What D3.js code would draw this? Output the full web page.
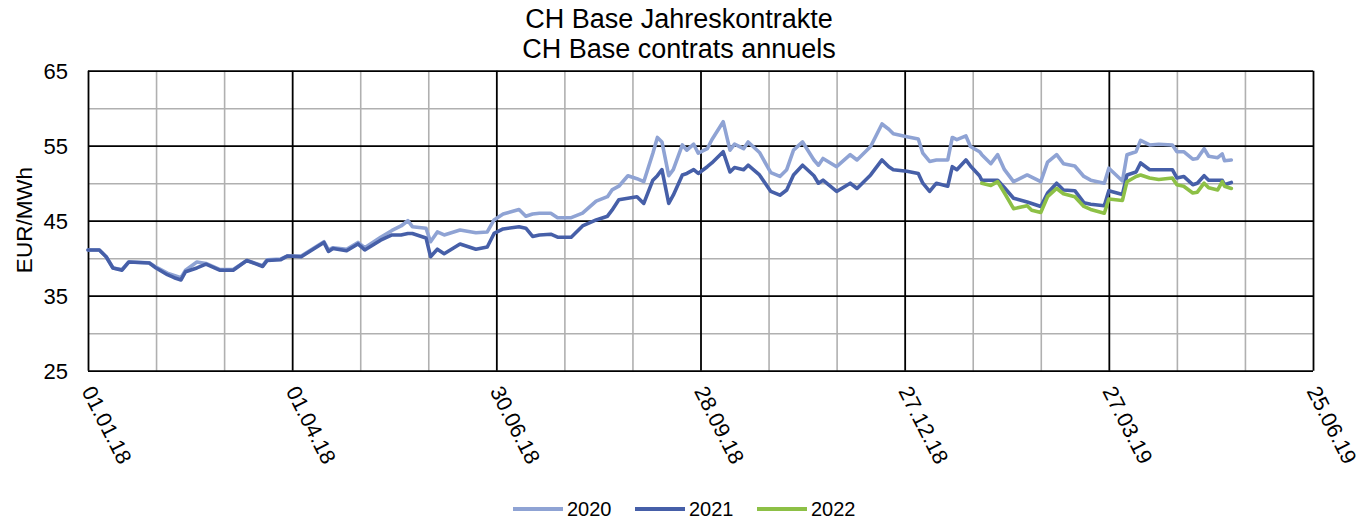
<!DOCTYPE html>
<html>
  <head>
    <meta charset="utf-8">
    <title>CH Base Jahreskontrakte</title>
    <style>
      body { margin: 0; background: white; }
      text { font-family: "Liberation Sans", Arial, sans-serif; fill: black; }
      .grid-minor line { stroke: #b0b0b0; stroke-width: 1.6; }
      .grid-major line { stroke: black; stroke-width: 1.8; }
      .grid-minor path, .grid-major path { display: none; }
      .series { fill: none; stroke-width: 3.6; stroke-linejoin: round; stroke-linecap: round; }
    </style>
  </head>
  <body>
    <script src="https://cdn.jsdelivr.net/npm/d3@7"></script>
    <script>
      const width = 1364;
      const height = 520;

      const titleLines = ["CH Base Jahreskontrakte", "CH Base contrats annuels"];
      const yLabel = "EUR/MWh";
      const seriesNames = ["2020", "2021", "2022"];
      const seriesColors = ["#8fa3d4", "#465fa8", "#8dc046"];

      const xTickDates = ["2018-01-01", "2018-04-01", "2018-06-30", "2018-09-28", "2018-12-27", "2019-03-27", "2019-06-25"];
      const yTicks = [25, 35, 45, 55, 65];
      const yMinorTicks = [30, 40, 50, 60];

      const dates = [
        "2018-01-01", "2018-01-06", "2018-01-09", "2018-01-12", "2018-01-16", "2018-01-19", "2018-01-28", "2018-01-31",
        "2018-02-05", "2018-02-08", "2018-02-11", "2018-02-13", "2018-02-18", "2018-02-22", "2018-02-28", "2018-03-06",
        "2018-03-12", "2018-03-19", "2018-03-21", "2018-03-27", "2018-03-30", "2018-04-05", "2018-04-15", "2018-04-17",
        "2018-04-19", "2018-04-25", "2018-04-30", "2018-05-03", "2018-05-10", "2018-05-15", "2018-05-19", "2018-05-22",
        "2018-05-24", "2018-05-30", "2018-06-01", "2018-06-04", "2018-06-07", "2018-06-14", "2018-06-21", "2018-06-26",
        "2018-06-29", "2018-07-03", "2018-07-10", "2018-07-13", "2018-07-16", "2018-07-19", "2018-07-24", "2018-07-27",
        "2018-08-02", "2018-08-07", "2018-08-13", "2018-08-18", "2018-08-20", "2018-08-23", "2018-08-27", "2018-08-31",
        "2018-09-03", "2018-09-07", "2018-09-09", "2018-09-11", "2018-09-14", "2018-09-16", "2018-09-20", "2018-09-22",
        "2018-09-25", "2018-09-27", "2018-10-01", "2018-10-03", "2018-10-08", "2018-10-11", "2018-10-13", "2018-10-17",
        "2018-10-19", "2018-10-24", "2018-10-29", "2018-11-02", "2018-11-05", "2018-11-08", "2018-11-12", "2018-11-17",
        "2018-11-19", "2018-11-21", "2018-11-27", "2018-12-03", "2018-12-06", "2018-12-12", "2018-12-17", "2018-12-20",
        "2018-12-22", "2018-12-28", "2019-01-02", "2019-01-04", "2019-01-07", "2019-01-10", "2019-01-15", "2019-01-17",
        "2019-01-19", "2019-01-23", "2019-01-25", "2019-01-29", "2019-01-30", "2019-02-03", "2019-02-06", "2019-02-09",
        "2019-02-13", "2019-02-19", "2019-02-21", "2019-02-25", "2019-02-28", "2019-03-04", "2019-03-07", "2019-03-12",
        "2019-03-16", "2019-03-19", "2019-03-25", "2019-03-27", "2019-04-02", "2019-04-04", "2019-04-08", "2019-04-10",
        "2019-04-14", "2019-04-18", "2019-04-24", "2019-04-26", "2019-04-29", "2019-05-03", "2019-05-05", "2019-05-08",
        "2019-05-10", "2019-05-14", "2019-05-16", "2019-05-17", "2019-05-20"
      ];

      const values2020 = [
        41.1, 41.1, 40.2, 38.7, 38.5, 39.5, 39.4, 38.8, 38.0, 37.7, 37.4, 38.4, 39.5, 39.3, 38.5, 38.5,
        39.7, 39.0, 39.8, 39.9, 40.3, 40.3, 42.2, 41.1, 41.4, 41.2, 42.1, 41.4, 42.8, 43.7, 44.3, 45.0,
        44.2, 44.0, 42.2, 43.5, 43.1, 43.75, 43.4, 43.5, 45.1, 45.9, 46.5, 45.6, 45.9, 46.0, 46.0, 45.4,
        45.4, 46.0, 47.6, 48.2, 49.1, 49.6, 51.0, 50.6, 50.2, 54.0, 56.1, 55.5, 51.0, 51.8, 55.1, 54.4,
        55.2, 54.0, 54.6, 55.8, 58.2, 54.4, 55.2, 54.6, 55.5, 54.1, 51.4, 50.9, 51.8, 54.4, 55.5, 53.1,
        52.4, 53.3, 52.2, 53.8, 53.1, 54.9, 57.9, 57.2, 56.6, 56.2, 55.9, 54.0, 52.9, 53.1, 53.1, 56.1,
        55.8, 56.3, 54.9, 54.2, 53.8, 52.6, 53.8, 51.8, 50.2, 51.1, 50.8, 50.2, 52.8, 53.8, 52.6, 52.3,
        50.9, 50.4, 50.0, 52.0, 50.3, 53.8, 54.2, 55.7, 55.1, 55.2, 55.1, 54.2, 54.2, 53.2, 53.3, 54.6,
        53.6, 53.4, 53.9, 53.0, 53.1
      ];

      const values2021 = [
        41.1, 41.1, 40.2, 38.7, 38.4, 39.5, 39.35, 38.7, 37.8, 37.4, 37.1, 38.2, 38.7, 39.2, 38.4, 38.4,
        39.7, 38.9, 39.7, 39.8, 40.3, 40.2, 42.1, 40.9, 41.3, 41.0, 41.9, 41.1, 42.4, 43.1, 43.1, 43.3,
        43.3, 42.7, 40.2, 41.2, 40.6, 41.9, 41.2, 41.5, 43.3, 43.9, 44.2, 44.0, 42.9, 43.1, 43.2, 42.8,
        42.8, 44.3, 45.1, 45.6, 46.4, 47.8, 48.0, 48.2, 47.3, 50.4, 51.0, 51.8, 47.3, 48.4, 51.1, 51.3,
        51.8, 51.3, 52.2, 52.7, 54.2, 51.5, 52.1, 51.8, 52.4, 51.1, 48.9, 48.4, 49.1, 51.1, 52.4, 51.0,
        50.0, 50.4, 48.9, 50.0, 49.3, 51.1, 53.1, 52.2, 51.8, 51.6, 51.3, 50.0, 48.9, 50.0, 49.6, 52.2,
        51.8, 53.1, 52.3, 51.0, 50.4, 50.4, 50.4, 49.4, 48.0, 47.5, 47.3, 46.9, 48.7, 50.0, 49.1, 49.0,
        47.4, 47.2, 47.0, 49.0, 48.5, 51.1, 51.5, 52.7, 51.8, 51.8, 51.8, 50.7, 50.9, 49.8, 50.0, 51.0,
        50.4, 50.4, 50.4, 49.8, 50.1
      ];

      // 2022 contract only traded from end of January 2019
      const values2022 = [
        null, null, null, null, null, null, null, null, null, null, null, null, null, null, null, null,
        null, null, null, null, null, null, null, null, null, null, null, null, null, null, null, null,
        null, null, null, null, null, null, null, null, null, null, null, null, null, null, null, null,
        null, null, null, null, null, null, null, null, null, null, null, null, null, null, null, null,
        null, null, null, null, null, null, null, null, null, null, null, null, null, null, null, null,
        null, null, null, null, null, null, null, null, null, null, null, null, null, null, null, null,
        null, null, null, null, 50.0, 49.7, 50.2, 48.7, 46.6, 47.0, 46.4, 46.1, 48.2, 49.3, 48.6, 48.2,
        46.9, 46.5, 46.0, 47.9, 47.7, 50.2, 50.9, 51.1, 50.7, 50.5, 50.7, 49.8, 49.6, 48.7, 48.8, 50.0,
        49.4, 49.1, 50.2, 49.6, 49.3
      ];

      const margin = { top: 70.7, right: 51, bottom: 149.3, left: 88 };
      const plotW = width - margin.left - margin.right;
      const plotH = height - margin.top - margin.bottom;

      const parse = d3.utcParse("%Y-%m-%d");
      const fmt = d3.utcFormat("%d.%m.%y");
      const majorDates = xTickDates.map(parse);
      const minorDates = [];
      majorDates.slice(0, -1).forEach(d => {
        minorDates.push(d3.utcDay.offset(d, 30), d3.utcDay.offset(d, 60));
      });

      const x = d3.scaleUtc()
        .domain([majorDates[0], majorDates[majorDates.length - 1]])
        .range([0, plotW]);

      const y = d3.scaleLinear()
        .domain([25, 65])
        .range([plotH, 0]);

      const svg = d3.select("body")
        .append("svg")
        .attr("width", width)
        .attr("height", height);

      const g = svg.append("g")
        .attr("transform", `translate(${margin.left},${margin.top})`);

      // minor grid
      g.append("g")
        .attr("class", "grid-minor")
        .attr("transform", `translate(0,${plotH})`)
        .call(d3.axisBottom(x).tickValues(minorDates).tickSize(-plotH).tickFormat(""));
      g.append("g")
        .attr("class", "grid-minor")
        .call(d3.axisLeft(y).tickValues(yMinorTicks).tickSize(-plotW).tickFormat(""));

      // major grid
      g.append("g")
        .attr("class", "grid-major")
        .attr("transform", `translate(0,${plotH})`)
        .call(d3.axisBottom(x).tickValues(majorDates).tickSize(-plotH).tickFormat(""));
      g.append("g")
        .attr("class", "grid-major")
        .call(d3.axisLeft(y).tickValues(yTicks).tickSize(-plotW).tickFormat(""));

      // y tick labels
      g.selectAll(".y-label")
        .data(yTicks)
        .enter()
        .append("text")
        .attr("x", -20)
        .attr("y", d => y(d))
        .attr("dy", "0.36em")
        .attr("text-anchor", "end")
        .style("font-size", "22px")
        .text(d => d);

      // x tick labels, rotated
      g.selectAll(".x-label")
        .data(majorDates)
        .enter()
        .append("text")
        .attr("transform", d => `translate(${x(d)},${plotH + 17}) rotate(63)`)
        .attr("dy", "0.35em")
        .style("font-size", "21.5px")
        .text(d => fmt(d));

      // series lines
      const series = [values2020, values2021, values2022].map((vals, i) => ({
        name: seriesNames[i],
        color: seriesColors[i],
        points: dates.map((d, j) => ({ date: parse(d), value: vals[j] }))
      }));

      const line = d3.line()
        .defined(d => d.value != null)
        .x(d => x(d.date))
        .y(d => y(d.value));

      g.selectAll(".series")
        .data(series)
        .enter()
        .append("path")
        .attr("class", "series")
        .attr("stroke", d => d.color)
        .attr("d", d => line(d.points));

      // title
      svg.selectAll(".title")
        .data(titleLines)
        .enter()
        .append("text")
        .attr("x", 679)
        .attr("y", (d, i) => 28 + i * 29.5)
        .attr("text-anchor", "middle")
        .style("font-size", "27px")
        .text(d => d);

      // y axis title
      svg.append("text")
        .attr("transform", "translate(32,220) rotate(-90)")
        .attr("text-anchor", "middle")
        .style("font-size", "22.5px")
        .text(yLabel);

      // legend
      const legend = svg.selectAll(".legend")
        .data(series)
        .enter()
        .append("g")
        .attr("transform", (d, i) => `translate(${513 + i * 122},509)`);

      legend.append("line")
        .attr("x1", 0)
        .attr("x2", 50)
        .attr("stroke", d => d.color)
        .attr("stroke-width", 4);

      legend.append("text")
        .attr("x", 54)
        .attr("y", 7)
        .style("font-size", "20px")
        .text(d => d.name);
    </script>
  </body>
</html>
